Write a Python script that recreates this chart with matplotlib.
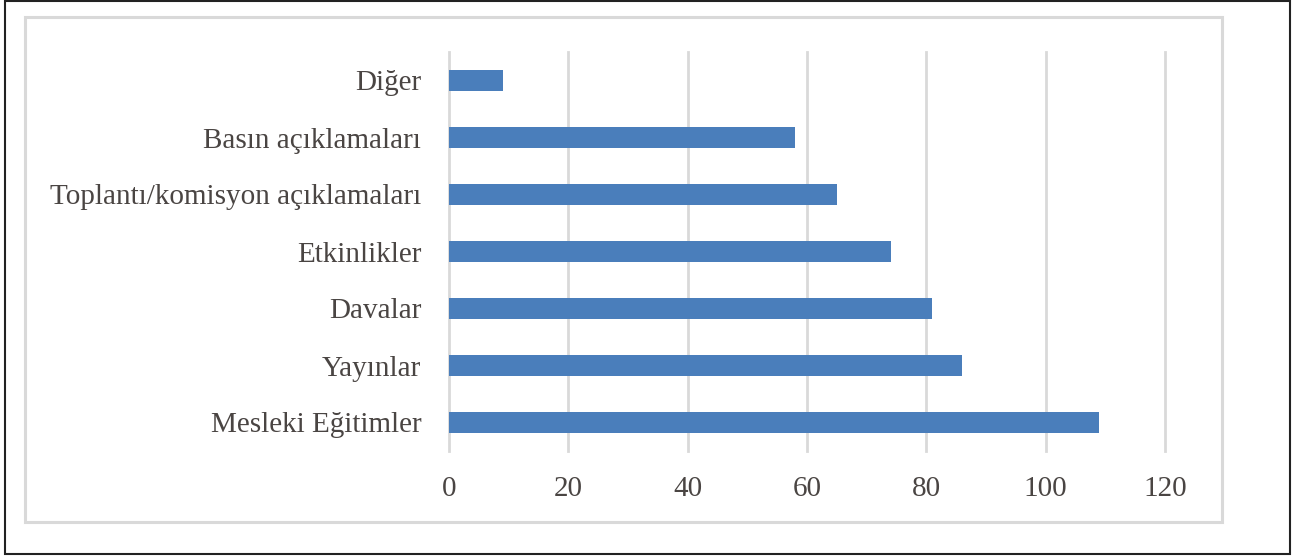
import matplotlib
matplotlib.use("Agg")
import matplotlib.pyplot as plt
from matplotlib.patches import Rectangle

categories = ["Mesleki Eğitimler", "Yayınlar", "Davalar", "Etkinlikler",
              "Toplantı/komisyon açıklamaları", "Basın açıklamaları", "Diğer"]
values = [109, 86, 81, 74, 65, 58, 9]
xticks = [0, 20, 40, 60, 80, 100, 120]

W, H = 1296, 557
fig = plt.figure(figsize=(W / 100, H / 100), dpi=100)
plt.rcParams['font.family'] = ['Liberation Serif', 'DejaVu Serif']

def fx(px):
    return px / W

def fy(py):
    return 1 - py / H

# outer black frame
fig.add_artist(Rectangle((fx(5), fy(554)), fx(1290) - fx(5), fy(1) - fy(554),
                         transform=fig.transFigure, fill=False,
                         edgecolor="#222222", linewidth=1.5))
# inner grey frame
fig.add_artist(Rectangle((fx(25), fy(522)), fx(1222) - fx(25), fy(17) - fy(522),
                         transform=fig.transFigure, fill=False,
                         edgecolor="#d9d9d9", linewidth=2.2))

left, right, top, bottom = 449, 1165, 52, 451
ax = fig.add_axes([fx(left), fy(bottom), fx(right) - fx(left), fy(top) - fy(bottom)])

ypos = list(range(len(categories)))
ax.barh(ypos, values, height=0.37, color="#4a7ebb", zorder=3)
ax.set_xlim(0, 120)
ax.set_ylim(-0.5, len(categories) - 0.5)
ax.set_xticks(xticks)
ax.set_xticklabels([str(t) for t in xticks])
ax.set_yticks(ypos)
ax.set_yticklabels(categories)
ax.tick_params(axis="both", length=0, labelsize=21, labelcolor="#4a4543")
ax.tick_params(axis="y", pad=20)
ax.tick_params(axis="x", pad=18)
ax.grid(axis="x", color="#d9d9d9", linewidth=2, zorder=0)
for gl in ax.get_xgridlines():
    gl.set_clip_on(False)
ax.set_axisbelow(True)
for s in ax.spines.values():
    s.set_visible(False)

fig.savefig("out.png", dpi=100)
